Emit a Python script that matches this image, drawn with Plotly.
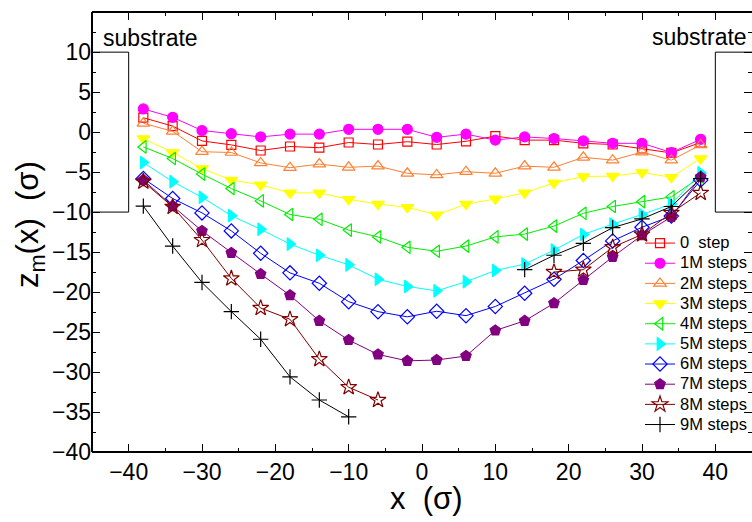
import plotly.graph_objects as go

x = [-38, -34, -30, -26, -22, -18, -14, -10, -6, -2, 2, 6, 10, 14, 18, 22, 26, 30, 34, 38]

s0 = [1.8, 0.75, -1.1, -1.6, -2.3, -1.8, -1.95, -1.3, -1.55, -1.2, -1.55, -1.15, -0.5, -1.0, -1.0, -1.4, -1.55, -2.05, -2.6, -1.3]
s1 = [2.9, 1.85, 0.2, -0.2, -0.6, -0.25, -0.25, 0.35, 0.35, 0.35, -0.65, -0.25, -1.0, -0.6, -0.8, -1.1, -1.4, -1.4, -2.55, -0.9]
s2 = [1.1, 0.1, -2.45, -2.55, -3.85, -4.45, -4.0, -4.4, -4.25, -5.15, -5.35, -4.95, -5.15, -4.25, -4.4, -3.15, -3.5, -2.5, -3.5, -1.6]
s3 = [-0.8, -2.55, -4.55, -6.0, -6.6, -7.6, -7.6, -8.4, -9.0, -9.4, -10.35, -9.0, -8.35, -7.6, -6.35, -5.55, -5.5, -5.05, -5.65, -3.3]
s4 = [-1.85, -3.3, -5.25, -7.05, -8.6, -10.3, -10.9, -12.25, -13.1, -14.4, -14.9, -14.25, -13.1, -12.75, -11.75, -10.15, -9.3, -8.7, -8.1, -5.6]
s5 = [-3.8, -6.2, -8.15, -10.45, -12.15, -14.0, -15.4, -16.6, -18.4, -19.3, -19.85, -18.7, -17.3, -16.5, -14.75, -12.8, -11.5, -10.3, -9.0, -5.1]
s6 = [-5.8, -8.3, -10.1, -12.35, -15.15, -17.6, -18.9, -21.2, -22.45, -23.1, -22.4, -22.95, -21.8, -20.15, -18.4, -16.05, -13.6, -11.9, -10.5, -6.0]
s7 = [-6.0, -9.25, -12.35, -15.1, -17.75, -20.4, -23.6, -26.0, -27.8, -28.6, -28.5, -28.0, -24.8, -23.6, -21.4, -18.5, -15.6, -12.9, -10.6, -5.6]
s8 = [-6.2, -9.35, -13.5, -18.3, -22.0, -23.4, -28.4, -31.9, -33.5, None, None, None, None, None, -17.5, -17.2, -14.4, -12.8, -10.1, -7.6]
s9 = [-9.25, -14.25, -18.8, -22.45, -25.9, -30.6, -33.5, -35.6, None, None, None, None, None, -17.2, -15.4, -13.9, -11.95, -10.85, -9.3, -5.8]

series_names = ["0\u00a0\u00a0step", "1M steps", "2M steps", "3M steps", "4M steps",
                "5M steps", "6M steps", "7M steps", "8M steps", "9M steps"]
series_values = [s0, s1, s2, s3, s4, s5, s6, s7, s8, s9]

colors = ["#ff0000", "#ff00ff", "#ff8033", "#ffff00", "#00ee00",
          "#00ffff", "#0000ff", "#800080", "#800000", "#000000"]
symbols = ["square-open", "circle", "triangle-up-open", "triangle-down", "triangle-left-open",
           "triangle-right", "diamond-open", "pentagon", "star-open", "cross-thin-open"]
sizes = [9, 10, 11, 11, 11, 11, 11, 11, 12, 11]

FONT = "Liberation Sans, Arial, sans-serif"

W, H = 752, 522
L, R, T, B = 92, 0, 12, 70
pw, ph = W - L - R, H - T - B


def px(xp):
    return (xp - L) / pw


def py(yp):
    return (H - B - yp) / ph


fig = go.Figure()
for name, vals, c, sym, sz in zip(series_names, series_values, colors, symbols, sizes):
    fig.add_trace(go.Scatter(
        x=x, y=vals, mode="lines+markers",
        name='<span style="font-size:16.5px">' + name + '</span>',
        connectgaps=False,
        line=dict(color=c, width=1),
        marker=dict(symbol=sym, size=sz, color=c,
                    line=dict(color=c, width=1.2)),
    ))

# axis spines (left, bottom, top)
for x0, y0, x1, y1 in [(0, 0, 0, 1), (0, 0, 1, 0), (0, 1, 1, 1)]:
    fig.add_shape(type="line", xref="paper", yref="paper", x0=x0, y0=y0, x1=x1, y1=y1,
                  line=dict(color="black", width=2))

# substrate boxes
fig.add_shape(type="rect", xref="x", yref="y", x0=-45, x1=-40, y0=-10, y1=10,
              line=dict(color="black", width=1))
fig.add_shape(type="rect", xref="x", yref="y", x0=40, x1=46, y0=-10, y1=10,
              line=dict(color="black", width=1))
fig.add_annotation(x=-37, y=11.8, xref="x", yref="y", text="substrate", showarrow=False,
                   font=dict(family=FONT, size=23, color="black"))
fig.add_annotation(x=37.8, y=11.9, xref="x", yref="y", text="substrate", showarrow=False,
                   font=dict(family=FONT, size=23, color="black"))

# axis titles
fig.add_annotation(x=px(426), y=py(498), xref="paper", yref="paper", text="x\u00a0\u00a0(σ)",
                   xanchor="center", yanchor="middle",
                   showarrow=False, font=dict(family=FONT, size=31, color="black"))
fig.add_annotation(x=px(30), y=py(225), xref="paper", yref="paper",
                   xanchor="center", yanchor="middle",
                   text="z<sub>m</sub>(x)\u00a0\u00a0(σ)", showarrow=False, textangle=-90,
                   font=dict(family=FONT, size=31, color="black"))

fig.update_layout(
    width=W, height=H,
    margin=dict(l=L, r=R, t=T, b=B, autoexpand=False),
    paper_bgcolor="white", plot_bgcolor="white",
    font=dict(family=FONT, color="black"),
    showlegend=True,
    legend=dict(x=px(640), y=py(228), xanchor="left", yanchor="top",
                bgcolor="rgba(0,0,0,0)", borderwidth=0,
                font=dict(family=FONT, size=13.2, color="black"),
                tracegroupgap=0),
)
fig.update_xaxes(range=[-45, 45], dtick=10, tick0=0, ticks="inside", ticklen=8, tickwidth=1,
                 tickcolor="black", showline=False, mirror="ticks",
                 showgrid=False, zeroline=False, ticklabelstandoff=4,
                 tickfont=dict(family=FONT, size=23, color="black"),
                 minor=dict(dtick=5, ticks="inside", ticklen=4, tickwidth=1, tickcolor="black"))
fig.update_yaxes(range=[-40, 15.02], dtick=5, tick0=0, ticks="inside", ticklen=8, tickwidth=1,
                 tickcolor="black", showline=False, mirror="ticks",
                 showgrid=False, zeroline=False,
                 tickfont=dict(family=FONT, size=23, color="black"),
                 minor=dict(dtick=2.5, ticks="inside", ticklen=4, tickwidth=1, tickcolor="black"))

fig.write_html("out.html", config={"displayModeBar": False},
               post_script="document.body.style.margin='0';document.body.style.overflow='hidden';")
